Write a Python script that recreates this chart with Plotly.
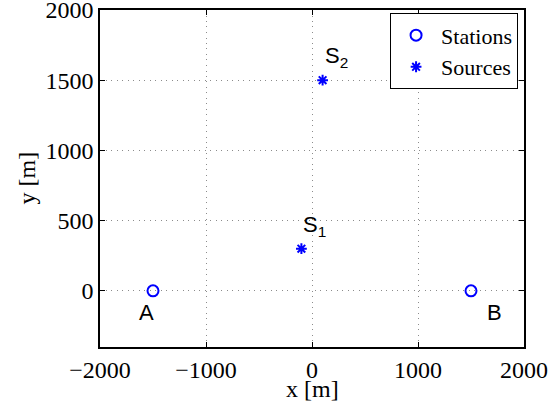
import plotly.graph_objects as go

station_x = [-1500, 1500]
station_y = [0, 0]
station_labels = ["A", "B"]
source_x = [-100, 100]
source_y = [300, 1500]
source_labels = ["S<sub>1</sub>", "S<sub>2</sub>"]
x_ticks = [-2000, -1000, 0, 1000, 2000]
y_ticks = [0, 500, 1000, 1500, 2000]

BLUE = "#0000ff"
SERIF = "Liberation Serif, Times New Roman, serif"
SANS = "Liberation Sans, Arial, sans-serif"
FS = 24

fig = go.Figure()
fig.add_trace(go.Scatter(
    x=station_x, y=station_y, mode="markers", name="Stations",
    marker=dict(symbol="circle-open", size=11, color=BLUE, line=dict(width=2, color=BLUE)),
))
fig.add_trace(go.Scatter(
    x=source_x, y=source_y, mode="markers", name="Sources",
    marker=dict(symbol="asterisk-open", size=9, color=BLUE, line=dict(width=2, color=BLUE)),
))

label_shift = {"A": (-7, -22), "B": (23, -22)}
for x, y, t in zip(station_x, station_y, station_labels):
    dx, dy = label_shift[t]
    fig.add_annotation(x=x, y=y, text=t, showarrow=False, xshift=dx, yshift=dy,
                       font=dict(family=SANS, size=22, color="black"))
for x, y, t in zip(source_x, source_y, source_labels):
    fig.add_annotation(x=x, y=y, text=t, showarrow=False, xanchor="left", xshift=0, yshift=23,
                       font=dict(family=SANS, size=22, color="black"))

# axis titles placed as annotations for precise positioning
fig.add_annotation(xref="paper", yref="paper", x=0.5, y=0, yshift=-42, yanchor="middle",
                   text="x [m]", showarrow=False, font=dict(family=SERIF, size=FS, color="black"))
fig.add_annotation(xref="paper", yref="paper", x=0, y=0.5, xshift=-74, xanchor="center",
                   text="y [m]", textangle=-90, showarrow=False,
                   font=dict(family=SERIF, size=FS, color="black"))

axis_common = dict(
    showline=True, linecolor="black", linewidth=1.5, mirror="ticks",
    ticks="inside", ticklen=5, tickcolor="black", tickwidth=1,
    showgrid=True, gridcolor="#8c8c8c", griddash="1px,4.5px", gridwidth=1,
    zeroline=False, tickfont=dict(family=SERIF, size=FS, color="black"),
    ticklabeloverflow="allow",
)

fig.update_xaxes(range=[-2000, 2000], tickvals=x_ticks, **axis_common)
fig.update_yaxes(range=[-400, 2000], tickvals=y_ticks, **axis_common)

fig.update_layout(
    width=558, height=408,
    margin=dict(l=100, r=34, t=10, b=61, autoexpand=False),
    paper_bgcolor="white", plot_bgcolor="white",
    legend=dict(x=0.986, y=0.99, xanchor="right", yanchor="top",
                bgcolor="white", bordercolor="black", borderwidth=1,
                font=dict(family=SERIF, size=22, color="black"),
                itemwidth=40, tracegroupgap=0),
    showlegend=True,
)

fig.write_html("out.html", config={"displayModeBar": False},
               post_script="document.body.style.margin='0';window.dispatchEvent(new Event('resize'));")
